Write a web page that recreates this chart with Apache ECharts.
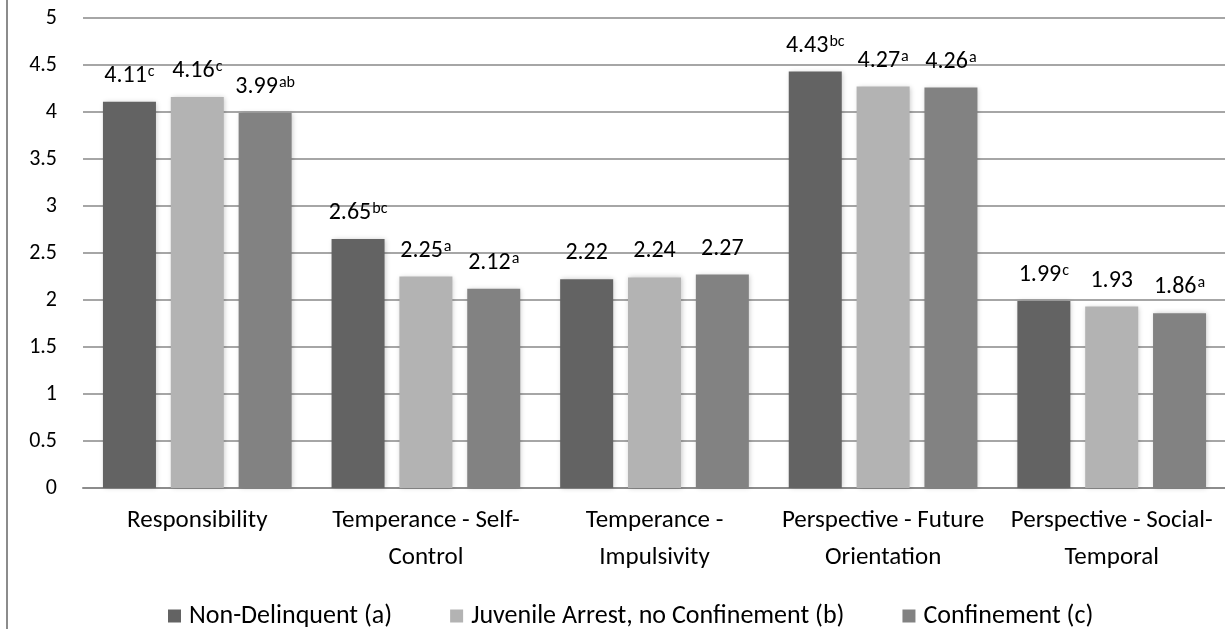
<!DOCTYPE html>
<html>
<head>
<meta charset="utf-8">
<script src="https://cdn.jsdelivr.net/npm/echarts@6/dist/echarts.min.js"></script>
<style>
  html, body { margin: 0; padding: 0; background: #fff; }
  #chart { width: 1225px; height: 629px; }
</style>
</head>
<body>
<div id="chart"></div>
<script>
// categories (line breaks as in the original axis labels)
const categories = [
  'Responsibility',
  'Temperance - Self-\nControl',
  'Temperance -\nImpulsivity',
  'Perspective - Future\nOrientation',
  'Perspective - Social-\nTemporal'
]

const seriesNames = [
  'Non-Delinquent (a)',
  'Juvenile Arrest, no Confinement (b)',
  'Confinement (c)'
]

const nonDelinquent = [4.11, 2.65, 2.22, 4.43, 1.99]
const juvenileArrest = [4.16, 2.25, 2.24, 4.27, 1.93]
const confinement = [3.99, 2.12, 2.27, 4.26, 1.86]

// superscript significance letters on each value label
const supNonDelinquent = ['c', 'bc', '', 'bc', 'c']
const supJuvenileArrest = ['c', 'a', '', 'a', '']
const supConfinement = ['ab', 'a', '', 'a', 'a']

const colors = ['#636363', '#b3b3b3', '#828282']
const font = 'Carlito, Lato, sans-serif'

const chart = echarts.init(document.getElementById('chart'))

const makeSeries = (name, values, sups, color) => ({
  name,
  type: 'bar',
  data: values,
  barWidth: 53,
  barGap: '28%',
  itemStyle: {
    color,
    shadowColor: 'rgba(0, 0, 0, 0.22)',
    shadowBlur: 5,
    shadowOffsetX: 1
  },
  label: {
    show: true,
    position: 'top',
    distance: 12,
    formatter: (p) => {
      const s = sups[p.dataIndex]
      return s ? `{v|${p.value}}{s|${s}}` : `{v|${p.value}}`
    },
    rich: {
      v: { fontFamily: font, fontSize: 24, color: '#000', lineHeight: 28 },
      s: { fontFamily: font, fontSize: 16, color: '#000', lineHeight: 17, verticalAlign: 'top', padding: [2, 0, 0, 1] }
    }
  }
})

const option = {
  backgroundColor: '#fff',
  animation: false,
  color: colors,
  grid: {
    left: 83,
    right: -1,
    top: 18,
    bottom: 141,
    outerBoundsMode: 'none'
  },
  legend: {
    left: 163,
    top: 598,
    icon: 'rect',
    itemWidth: 13,
    itemHeight: 13,
    itemGap: 58,
    textStyle: { fontFamily: font, fontSize: 26, color: '#000', padding: [0, 0, 0, 3] },
    data: seriesNames
  },
  xAxis: {
    type: 'category',
    data: categories,
    axisLine: { lineStyle: { color: '#8c8c8c', width: 2 } },
    axisTick: { show: false },
    axisLabel: {
      interval: 0,
      hideOverlap: false,
      fontFamily: font,
      fontSize: 25,
      color: '#000',
      lineHeight: 37,
      margin: 14,
      verticalAlign: 'top'
    }
  },
  yAxis: {
    type: 'value',
    min: 0,
    max: 5,
    interval: 0.5,
    axisLine: { show: false },
    axisTick: { show: false },
    axisLabel: { fontFamily: font, fontSize: 22, color: '#000', margin: 26 },
    splitLine: { lineStyle: { color: '#a6a6a6', width: 2 } }
  },
  graphic: [{
    type: 'line',
    shape: { x1: 7, y1: 0, x2: 7, y2: 629 },
    style: { stroke: '#8c8c8c', lineWidth: 2 }
  }],
  series: [
    makeSeries(seriesNames[0], nonDelinquent, supNonDelinquent, colors[0]),
    makeSeries(seriesNames[1], juvenileArrest, supJuvenileArrest, colors[1]),
    makeSeries(seriesNames[2], confinement, supConfinement, colors[2])
  ]
}

chart.setOption(option)
</script>
</body>
</html>
